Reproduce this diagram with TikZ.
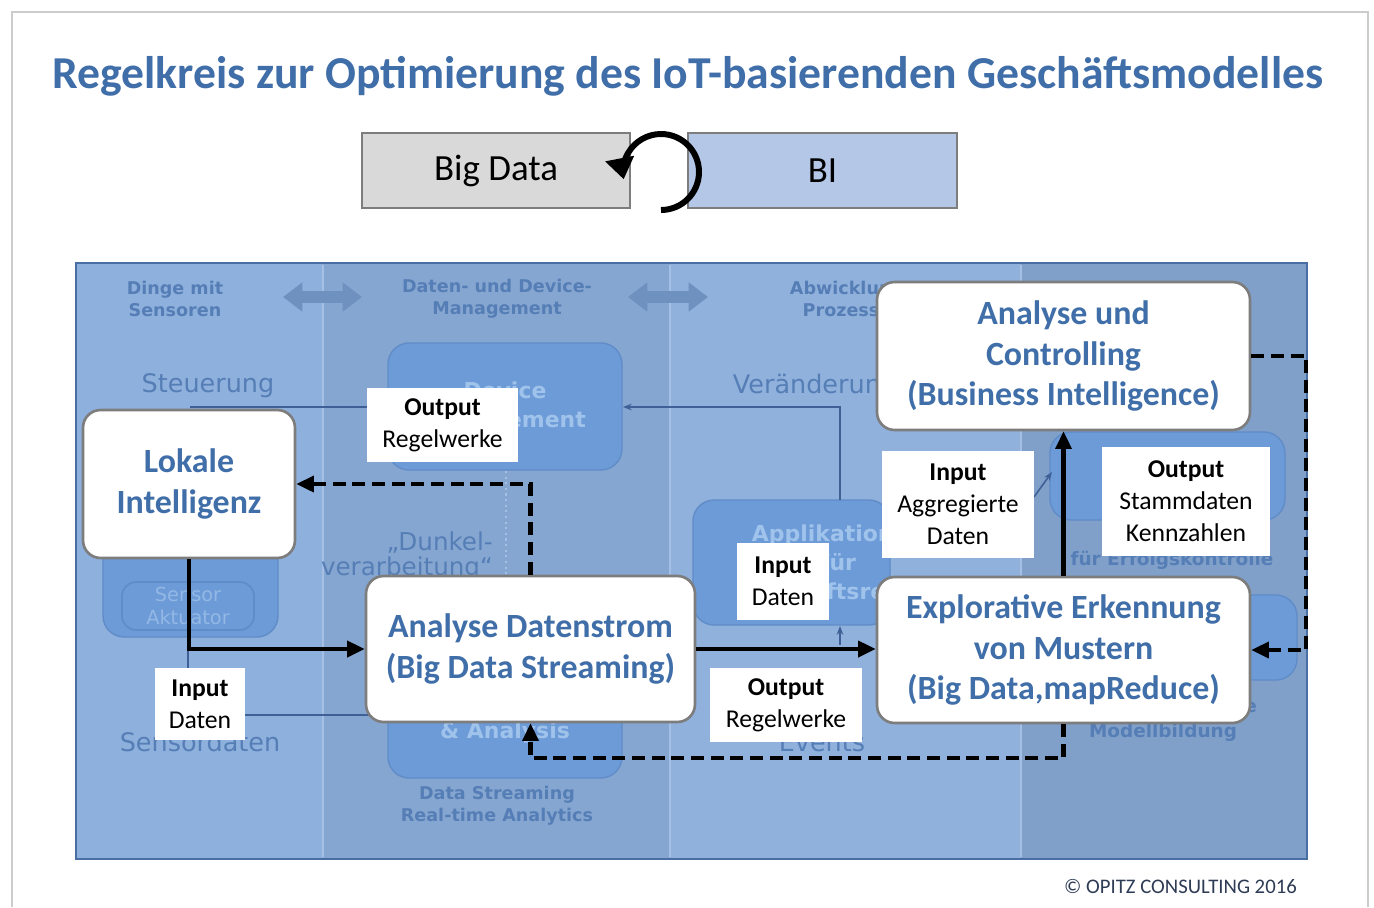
\documentclass[tikz,border=0pt]{standalone}
\usepackage{fontspec}
\setmainfont{Carlito}
\newfontfamily\fadefont{DejaVu Sans}
\usetikzlibrary{arrows.meta}

\definecolor{titelblau}{RGB}{64,110,168}
\definecolor{knotenrand}{RGB}{125,125,125}
\definecolor{bdgrau}{RGB}{217,217,217}
\definecolor{biblau}{RGB}{180,199,231}
\definecolor{spalteA}{RGB}{142,176,220}
\definecolor{spalteB}{RGB}{133,166,208}
\definecolor{spalteC}{RGB}{143,177,220}
\definecolor{spalteD}{RGB}{128,160,202}
\definecolor{panelrand}{RGB}{72,110,164}
\definecolor{trenner}{RGB}{165,192,228}
\definecolor{fbfill}{RGB}{108,155,215}
\definecolor{fbrand}{RGB}{96,140,200}
\definecolor{fadetext}{RGB}{86,126,182}
\definecolor{fadehell}{RGB}{160,195,236}
\definecolor{fadelinie}{RGB}{62,96,150}
\definecolor{pfeilblau}{RGB}{110,145,192}
\definecolor{copyblau}{RGB}{46,59,85}

\begin{document}
\begin{tikzpicture}[x=0.02cm,y=-0.02cm,
  bloc/.style={draw=knotenrand, line width=1.5pt, fill=white, rounded corners=10pt,
    align=center, text=titelblau, inner sep=0pt,
    font=\bfseries\fontsize{19.3}{23.3}\selectfont},
  etikett/.style={fill=white, align=center, inner sep=0pt,
    font=\fontsize{14.6}{18.2}\selectfont},
  kasten/.style={draw=knotenrand, line width=1.3pt, minimum width=5.36cm,
    minimum height=1.5cm, font=\fontsize{21}{25}\selectfont},
  flux/.style={line width=2.3pt, -{Triangle[length=10pt,width=9pt]}},
  retour/.style={flux, dash pattern=on 7.4pt off 3.8pt},
  fadebox/.style={fill=fbfill, draw=fbrand, line width=0.8pt, rounded corners=12pt},
  fadeklein/.style={text=fadetext, align=center, font=\fadefont\bfseries\fontsize{10}{12.5}\selectfont},
  fadegross/.style={text=fadetext, align=center, font=\fadefont\fontsize{14.5}{14.5}\selectfont},
  fadeweiss/.style={text=fadehell, align=center, font=\fadefont\bfseries\fontsize{12.5}{16.5}\selectfont},
  duenn/.style={draw=fadelinie, line width=0.9pt},
  doppelpfeil/.style={draw=pfeilblau, line width=7pt,
    {Triangle[length=11pt,width=16pt]}-{Triangle[length=11pt,width=16pt]}}]

\useasboundingbox (0,0) rectangle (1374,907);

%% Rahmen
\draw[gray!40, line width=0.6pt] (12,907) -- (12,12) -- (1368,12) -- (1368,907);

%% Titel
\node[text=titelblau, font=\bfseries\fontsize{26}{30}\selectfont] (titel) at (688,76)
  {Regelkreis zur Optimierung des IoT-basierenden Geschäftsmodelles};

%% Big Data <-> BI
\node[kasten, fill=bdgrau] (bigdata) at (496,170.5) {Big Data};
\node[kasten, fill=biblau, minimum width=5.38cm] (bi) at (822.5,170.5) {BI};
\draw[line width=3.4pt, -{Triangle[length=12pt,width=16pt]}] (661,210)
  arc[start angle=90, end angle=-191, radius=38];

%% Hintergrund mit Spalten
\fill[spalteA] (77,264) rectangle (323,858);
\fill[spalteB] (323,264) rectangle (670,858);
\fill[spalteC] (670,264) rectangle (1021,858);
\fill[spalteD] (1021,264) rectangle (1306,858);
\foreach \x in {323,670,1021}
  \draw[trenner, line width=1.5pt] (\x,265) -- (\x,857);
\draw[panelrand, line width=1.3pt] (76,263) rectangle (1307,859);

% Spaltenkoepfe
\node[fadeklein] (dinge) at (175,299) {Dinge mit\\Sensoren};
\node[fadeklein] (devman) at (497,299) {Daten- und Device-\\Management};
\node[fadeklein] (abwickl) at (847,299) {Abwicklung\\Prozesse};
\foreach \a/\b in {283/362, 628/708}
  \draw[doppelpfeil] (\a,297) -- (\b,297);

% verblasste Kaesten
\draw[fadebox] (388,343) rectangle (622,470);
\node[fadeweiss] (devbox) at (505,407) {Device\\Management};
\draw[fadebox] (388,600) rectangle (622,778);
\node[fadeweiss] (streambox) at (505,718) {Stream Processing\\\& Analysis};
\draw[fadebox] (103,530) rectangle (278,637);
\draw[fbrand, line width=1pt, rounded corners=8pt] (122,582) rectangle (254,630);
\node[text=fadehell!80!fbrand, align=center, font=\fadefont\fontsize{11}{13.5}\selectfont]
  (sensor) at (188,606) {Sensor\\Aktuator};
\draw[fadebox] (693,500) rectangle (890,625);
\node[fadeweiss] (appbox) at (838,565) {Applikationen\\für\\Geschäftsregeln};
\draw[fadebox] (1050,432) rectangle (1285,520);
\draw[fadebox] (1150,595) rectangle (1297,680);

% verblasste Beschriftungen
\node[fadegross] (steuer) at (208,386) {Steuerung};
\node[fadegross] (veraend) at (815,386) {Veränderung};
\node[fadegross] (sensdat) at (200,742) {Sensordaten};
\node[fadegross] (events) at (822,742) {Events};
\node[fadegross, align=right, anchor=east, font=\fadefont\fontsize{14}{14.5}\selectfont]
  (dunkel) at (499,556) {„Dunkel-\\verarbeitung“};
\node[fadeklein] (datstream) at (497,806) {Data Streaming\\Real-time Analytics};
\node[fadeklein, font=\fadefont\bfseries\fontsize{10.5}{12.5}\selectfont] (erfolg) at (1172,560) {für Erfolgskontrolle};
\node[fadeklein, font=\fadefont\bfseries\fontsize{10.5}{12.5}\selectfont] (modell) at (1163,732) {Modellbildung};
\node[fadeklein, font=\fadefont\bfseries\fontsize{10.5}{12.5}\selectfont, anchor=east] (prognose) at (1263,708) {Prognose};

% duenne Linien
\draw[duenn] (190,407) -- (388,407);
\draw[duenn, -{Stealth[length=5pt]}] (840,500) -- (840,407) -- (623,407);
\draw[duenn] (188,637) -- (188,715) -- (388,715);
\draw[duenn, -{Stealth[length=5pt]}] (840,645) -- (840,626);
\draw[duenn, -{Stealth[length=5pt]}] (1034,497) -- (1052,472);
\draw[trenner, line width=1.2pt, dotted] (506,471) -- (506,576);

%% Hauptknoten
\node[bloc, minimum width=7.46cm, minimum height=2.96cm] (ctrl) at (1063.5,356)
  {Analyse und\\Controlling\\(Business Intelligence)};
\node[bloc, minimum width=4.24cm, minimum height=2.96cm] (lokal) at (189,484)
  {Lokale\\Intelligenz};
\node[bloc, minimum width=6.58cm, minimum height=2.92cm] (stream) at (530.5,649)
  {Analyse Datenstrom\\(Big Data Streaming)};
\node[bloc, minimum width=7.46cm, minimum height=2.92cm] (muster) at (1063.5,650)
  {Explorative Erkennung\\von Mustern\\(Big Data,mapReduce)};

%% Etiketten
\node[etikett, minimum width=3.02cm, minimum height=1.48cm] (outregelA) at (442.5,425)
  {\textbf{Output}\\Regelwerke};
\node[etikett, minimum width=3.04cm, minimum height=2.14cm] (inagg) at (958,504.5)
  {\textbf{Input}\\Aggregierte\\Daten};
\node[etikett, minimum width=3.36cm, minimum height=2.18cm] (outstamm) at (1186,501.5)
  {\textbf{Output}\\Stammdaten\\Kennzahlen};
\node[etikett, minimum width=1.84cm, minimum height=1.54cm] (indatA) at (783,581.5)
  {\textbf{Input}\\Daten};
\node[etikett, minimum width=1.8cm, minimum height=1.44cm] (indatB) at (200,704)
  {\textbf{Input}\\Daten};
\node[etikett, minimum width=3.04cm, minimum height=1.48cm] (outregelB) at (786,705)
  {\textbf{Output}\\Regelwerke};

%% Regelkreis
\draw[flux] (lokal.south) |- (stream.west);
\draw[flux] (stream.east) -- (stream.east -| muster.west);
\draw[flux] (muster.north) -- (ctrl.south);
\draw[retour] (stream.north) |- (lokal.east);
\draw[retour] (muster.south) -- ++(0,34) -| (stream.south);
\draw[retour] (ctrl.east) -- ++(55,0) |- (muster.east);

%% Copyright
\node[text=copyblau, anchor=east, font=\fontsize{11.8}{14}\selectfont] (copy) at (1303,886)
  {© OPITZ CONSULTING 2016};

\end{tikzpicture}
\end{document}
